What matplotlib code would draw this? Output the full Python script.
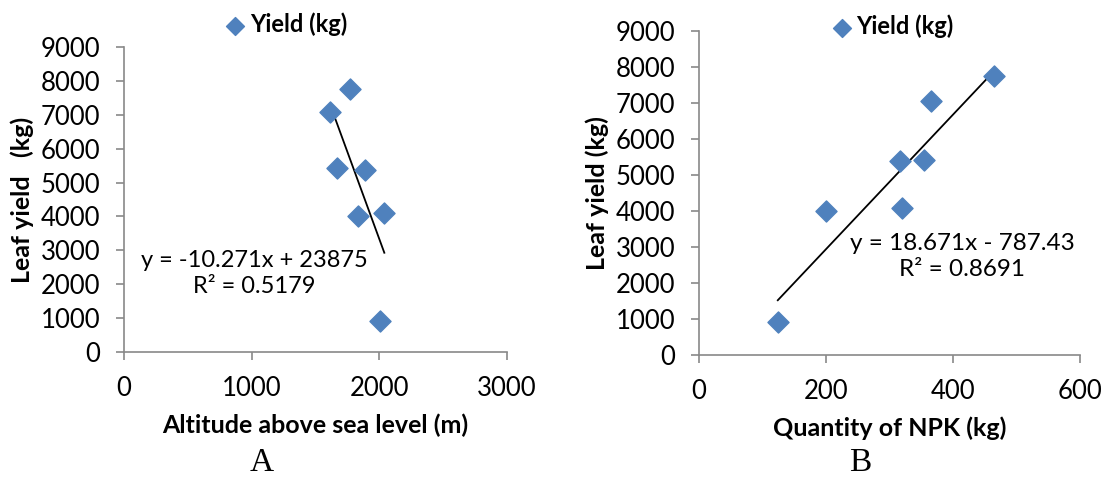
import numpy as np
import matplotlib
matplotlib.use('Agg')
import matplotlib.pyplot as plt

## Data
yield_kg = [922, 4000, 5380, 4095, 5420, 7070, 7740]
altitude_m = [2008, 1836, 1885, 2039, 1669, 1617, 1773]
npk_kg = [124, 200, 316, 319, 355, 365, 465]

# trendline coefficients printed on the chart
fit_alt = (-10.271, 23875)
fit_npk = (18.671, -787.43)
eq_alt = 'y = -10.271x + 23875\nR² = 0.5179'
eq_npk = 'y = 18.671x - 787.43\nR² = 0.8691'

yticks = [0, 1000, 2000, 3000, 4000, 5000, 6000, 7000, 8000, 9000]
xticks_alt = [0, 1000, 2000, 3000]
xticks_npk = [0, 200, 400, 600]

plt.rcParams['font.family'] = ['Lato', 'DejaVu Sans']
blue = '#4F81BD'
grey = '#898989'

fig = plt.figure(figsize=(11.19, 4.8), dpi=100)
ax1 = fig.add_axes([0.1108, 0.266, 0.3423, 0.6367])
ax2 = fig.add_axes([0.6247, 0.2598, 0.3405, 0.6756])


def style_axis(ax, xticks, xlabel, ylabel):
    ax.set_xlim(xticks[0], xticks[-1])
    ax.set_ylim(0, 9000)
    ax.set_xticks(xticks)
    ax.set_yticks(yticks)
    for side in ['top', 'right']:
        ax.spines[side].set_visible(False)
    for side in ['left', 'bottom']:
        ax.spines[side].set_color(grey)
        ax.spines[side].set_linewidth(1.2)
    ax.tick_params(axis='both', direction='out', length=6, width=1.2,
                   color=grey, labelsize=18.5)
    ax.tick_params(axis='y', pad=11)
    ax.tick_params(axis='x', pad=11)
    ax.set_xlabel(xlabel, fontsize=18, fontweight='bold', labelpad=9)
    ax.set_ylabel(ylabel, fontsize=18, fontweight='bold', labelpad=5)


def add_legend(ax, x, y):
    ax.legend(loc='center', bbox_to_anchor=(x, y), bbox_transform=fig.transFigure,
              frameon=False, handlelength=0.7, handletextpad=0.25, markerscale=0.85,
              prop={'weight': 'bold', 'size': 17})


## Panel A
ax1.scatter(altitude_m, yield_kg, marker='D', s=115, color=blue,
            label='Yield (kg)', zorder=3, clip_on=False)
xs = np.array([min(altitude_m), max(altitude_m)])
ax1.plot(xs, fit_alt[0] * xs + fit_alt[1], color='black', lw=1.3, zorder=2)
ax1.text(1023, 2320, eq_alt, ha='center', va='center', fontsize=17,
         linespacing=1.25)
style_axis(ax1, xticks_alt, 'Altitude above sea level (m)', 'Leaf yield   (kg)')
add_legend(ax1, 0.2565, 0.95)

## Panel B
ax2.scatter(npk_kg, yield_kg, marker='D', s=115, color=blue,
            label='Yield (kg)', zorder=3, clip_on=False)
xs = np.array([min(npk_kg), max(npk_kg)])
ax2.plot(xs, fit_npk[0] * xs + fit_npk[1], color='black', lw=1.3, zorder=2)
ax2.text(414, 2740, eq_npk, ha='center', va='center', fontsize=17.5,
         linespacing=1.25)
style_axis(ax2, xticks_npk, 'Quantity of NPK (kg)', 'Leaf yield (kg)')
add_legend(ax2, 0.7985, 0.946)

## Panel letters
fig.text(262 / 1119, 1 - 463 / 480, 'A', ha='center', va='center',
         fontsize=24, family='Liberation Serif')
fig.text(860 / 1119, 1 - 463 / 480, 'B', ha='center', va='center',
         fontsize=24, family='Liberation Serif')

fig.savefig('out.png', dpi=100)
